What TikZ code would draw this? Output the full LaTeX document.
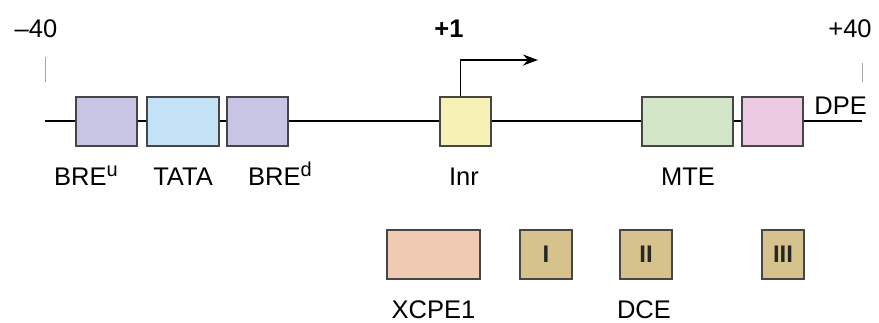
\documentclass[tikz,border=0pt]{standalone}
\usepackage{fontspec}
\setmainfont{Liberation Sans}
\usepackage{tikz}
\usetikzlibrary{arrows.meta}

\definecolor{brecol}{RGB}{200,196,228}
\definecolor{tatacol}{RGB}{196,226,246}
\definecolor{inrcol}{RGB}{246,242,182}
\definecolor{mtecol}{RGB}{212,230,200}
\definecolor{dpecol}{RGB}{236,202,226}
\definecolor{xcpecol}{RGB}{240,202,178}
\definecolor{dcecol}{RGB}{214,194,140}
\definecolor{boxline}{RGB}{70,70,70}
\newcommand{\supl}[1]{\raisebox{0.33em}{\fontsize{20}{20}\selectfont #1}}

\begin{document}
\begin{tikzpicture}[x=1pt, y=-1pt, font=\fontsize{25.5}{28}\selectfont]
\tikzstyle{element}=[draw=boxline, line width=1.4pt, minimum height=49pt, inner sep=0pt]
\tikzstyle{numeral}=[font=\fontsize{24}{28}\selectfont\bfseries, text=black!85]
\tikzstyle{tick}=[draw=gray!70, line width=0.8pt]
\tikzstyle{lbl}=[anchor=base, inner sep=0pt]
\useasboundingbox (0,0) rectangle (879,322);

% scale marks
\node (M40) at (36,29) {--40};
\node (P40) at (850,29) {+40};
\node (P1) at (449,29) {\textbf{+1}};
\coordinate (lstart) at (45,121);
\coordinate (lend) at (862,121);
\coordinate (tss) at (538,60);
\draw[tick] (45,57) -- (45,82);
\draw[tick] (862,63) -- (862,82);

% promoter line
\draw[line width=1.6pt] (lstart) -- (lend);

% core elements
\node[element, fill=brecol, minimum width=61pt] (BREu) at (106.5,121.5) {};
\node[element, fill=tatacol, minimum width=72pt] (TATA) at (183,121.5) {};
\node[element, fill=brecol, minimum width=61pt] (BREd) at (257.5,121.5) {};
\node[element, fill=inrcol, minimum width=51pt] (Inr) at (465.5,121.5) {};
\node[element, fill=mtecol, minimum width=91pt] (MTE) at (687.5,121.5) {};
\node[element, fill=dpecol, minimum width=61pt] (DPE) at (772.5,121.5) {};

% start of transcription
\draw[line width=1.4pt, -{Stealth[length=15pt, width=11pt]}] ([xshift=-5pt]Inr.north) |- (tss);

\node[lbl] (lBREu) at (86,185) {BRE\supl{u}};
\node[lbl] (lTATA) at (183,185) {TATA};
\node[lbl] (lBREd) at (280,185) {BRE\supl{d}};
\node[lbl] (lInr) at (464,185) {Inr};
\node[lbl] (lMTE) at (688,185) {MTE};
\node[anchor=base east, inner sep=0pt] (lDPE) at (867,114) {DPE};

% other elements
\node[element, fill=xcpecol, minimum width=93pt] (XCPE1) at (433.5,254.5) {};
\node[element, fill=dcecol, minimum width=52pt, numeral] (DCEi) at (546,254.5) {I};
\node[element, fill=dcecol, minimum width=52pt, numeral] (DCEii) at (646,254.5) {II};
\node[element, fill=dcecol, minimum width=42pt, numeral] (DCEiii) at (783,254.5) {III};
\node[lbl] (lXCPE1) at (433.5,318) {XCPE1};
\node[lbl] (lDCE) at (644,318) {DCE};

\end{tikzpicture}
\end{document}
